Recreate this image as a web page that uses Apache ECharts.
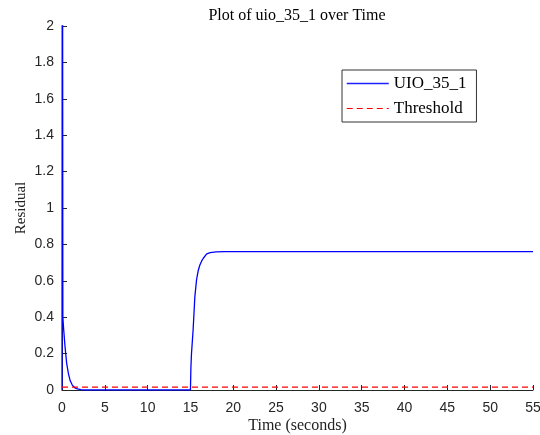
<!DOCTYPE html>
<html>
<head>
<meta charset="utf-8">
<script src="https://cdn.jsdelivr.net/npm/echarts@6/dist/echarts.min.js"></script>
<style>html,body{margin:0;padding:0;background:#fff;}#chart{width:540px;height:435px;}</style>
</head>
<body>
<div id="chart"></div>
<script>
// Residual signal samples (time in seconds, value)
var residualTime = [0, 0.04, 0.1, 0.2, 0.35, 0.55, 0.75, 0.95, 1.2, 1.5, 1.8, 2.2, 2.6, 15.0, 15.05, 15.12, 15.31, 15.51, 15.71, 15.9, 16.1, 16.3, 16.5, 16.9, 17.3, 18.0, 19.0, 19.1, 19.15, 19.3, 55];
var residualValue = [0, 4.0, 0.4, 0.33, 0.24, 0.145, 0.09, 0.052, 0.027, 0.012, 0.006, 0.002, 0, 0, 0.12, 0.2, 0.33, 0.51, 0.605, 0.655, 0.687, 0.708, 0.724, 0.748, 0.755, 0.759, 0.760, 0.768, 0.752, 0.760, 0.760];
var thresholdTime = [0, 55];
var thresholdValue = [0.016, 0.016];
var xTicks = [0, 5, 10, 15, 20, 25, 30, 35, 40, 45, 50, 55];
var yTicks = [0, 0.2, 0.4, 0.6, 0.8, 1, 1.2, 1.4, 1.6, 1.8, 2];

var residualData = residualTime.map(function (t, i) { return [t, residualValue[i]]; });
var thresholdData = thresholdTime.map(function (t, i) { return [t, thresholdValue[i]]; });

var chart = echarts.init(document.getElementById('chart'), null, {renderer: 'canvas'});
var axisColor = '#262626';
var serif = '"Liberation Serif", "DejaVu Serif", serif';
var sans = '"Liberation Sans", Arial, sans-serif';
chart.setOption({
  animation: false,
  backgroundColor: '#ffffff',
  title: {
    text: 'Plot of uio_35_1 over Time',
    left: 292, top: 3, textAlign: 'center',
    textStyle: {fontFamily: serif, fontSize: 16, fontWeight: 'normal', color: '#000'}
  },
  grid: {left: 62, right: 7, top: 26, bottom: 45, containLabel: false, outerBoundsMode: 'none'},
  legend: {
    orient: 'vertical',
    left: 342, top: 70,
    itemWidth: 42, itemHeight: 12, itemGap: 8,
    padding: [5, 10, 5, 4],
    backgroundColor: '#ffffff',
    borderColor: '#333333', borderWidth: 1, borderRadius: 0,
    textStyle: {fontFamily: serif, fontSize: 17, color: '#000'},
    itemStyle: {opacity: 0},
    data: [
      {name: 'UIO_35_1', lineStyle: {color: '#2020ff', width: 1.5, type: 'solid'}},
      {name: 'Threshold', lineStyle: {color: '#ff0000', width: 1.2, type: [6, 4]}}
    ]
  },
  xAxis: {
    type: 'value', min: xTicks[0], max: xTicks[xTicks.length - 1], interval: 5,
    name: 'Time (seconds)', nameLocation: 'middle', nameGap: 28, nameMoveOverlap: false,
    nameTextStyle: {fontFamily: serif, fontSize: 16, color: '#222'},
    axisLine: {show: true, onZero: false, lineStyle: {color: axisColor, width: 1}},
    axisTick: {show: true, inside: true, length: 5, lineStyle: {color: axisColor}},
    axisLabel: {fontFamily: sans, fontSize: 14, color: axisColor, margin: 11},
    splitLine: {show: false}
  },
  yAxis: {
    type: 'value', min: yTicks[0], max: yTicks[yTicks.length - 1], interval: 0.2,
    name: 'Residual', nameLocation: 'middle', nameGap: 33, nameRotate: 90, nameMoveOverlap: false,
    nameTextStyle: {fontFamily: serif, fontSize: 15, color: '#222'},
    axisLine: {show: true, onZero: false, lineStyle: {color: axisColor, width: 1}},
    axisTick: {show: true, inside: true, length: 5, lineStyle: {color: axisColor}},
    axisLabel: {fontFamily: sans, fontSize: 14, color: axisColor, margin: 8,
      formatter: function (v) { return String(Math.round(v * 10) / 10); }},
    splitLine: {show: false}
  },
  series: [
    {
      name: 'UIO_35_1', type: 'line', data: residualData,
      showSymbol: false, symbol: 'none', clip: true,
      lineStyle: {color: '#0000ff', width: 1.3},
      itemStyle: {color: '#0000ff'}
    },
    {
      name: 'Threshold', type: 'line', data: thresholdData,
      showSymbol: false, symbol: 'none', clip: true,
      lineStyle: {color: '#ff0000', width: 1.2, type: [6, 4]},
      itemStyle: {color: '#ff0000'}
    }
  ]
});
</script>
</body>
</html>
